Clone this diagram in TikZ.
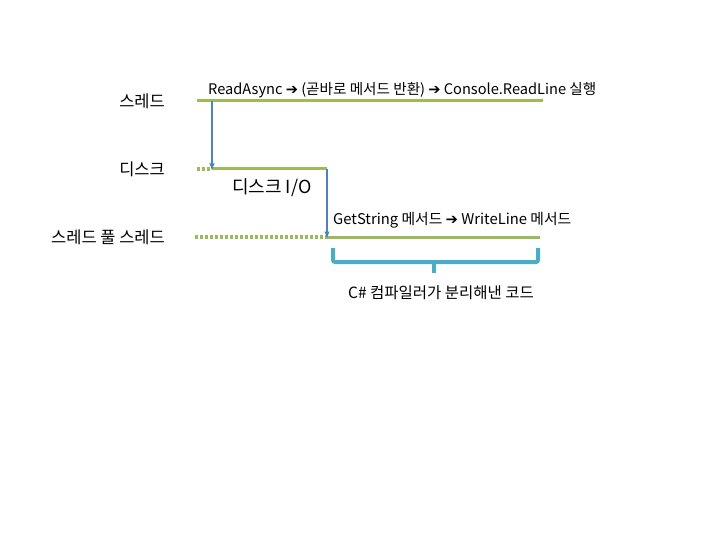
\documentclass[tikz,border=0pt]{standalone}
\usepackage{fontspec}
\setmainfont{Noto Sans CJK KR}
\newfontfamily\symfont{DejaVu Sans}
\usetikzlibrary{positioning}
\definecolor{laneGreen}{RGB}{155,187,89}
\definecolor{jumpBlue}{RGB}{79,129,189}
\definecolor{braceBlue}{RGB}{75,172,198}
\newcommand{\goarr}{{\symfont\char"2794}}

\begin{document}
\begin{tikzpicture}[x=1pt,y=-1pt,
  lane/.style={draw=laneGreen,line width=3pt},
  idle/.style={draw=laneGreen,line width=3.5pt,dash pattern=on 3pt off 2pt},
  jump/.style={draw=jumpBlue,line width=1.4pt,-latex},
  side/.style={anchor=east,inner sep=0pt,font=\fontsize{16.5}{19}\selectfont},
  note/.style={anchor=west,inner sep=0pt,font=\fontsize{14.6}{17}\selectfont}]
\useasboundingbox (0,0) rectangle (720,540);
% row names
\node at (165,101) [side] (nameT) {스레드};
\node at (165,169) [side] (nameD) {디스크};
\node at (165,237) [side] (nameP) {스레드 풀 스레드};
% lanes
\coordinate (T0) at (197,101);
\coordinate (T1) at (212,101);
\coordinate (T2) at (543,101);
\coordinate (D0) at (197,169);
\coordinate (D1) at (212,169);
\coordinate (D2) at (327,169);
\coordinate (P0) at (195,237);
\coordinate (P1) at (327,237);
\coordinate (P2) at (540,237);
\draw[lane] (T0) -- (T2);
\draw[idle] (D0) -- (D1);
\draw[lane] (D1) -- (D2);
\draw[idle] (P0) -- (P1);
\draw[lane] (P1) -- (P2);
% hand-offs
\draw[jump] (T1) -- ([yshift=-1.5pt]D1);
\draw[jump] (D2) -- ([yshift=-1.5pt]P1);
% texts
\node at (208,90) [note] (txtT) {ReadAsync \goarr\ (곧바로 메서드 반환) \goarr\ Console.ReadLine 실행};
\node at (232,188) [note,font=\fontsize{18}{21}\selectfont] (txtD) {디스크 I/O};
\node at (333,220) [note,font=\fontsize{14.8}{17}\selectfont] (txtP) {GetString 메서드 \goarr\ WriteLine 메서드};
% brace
\coordinate (B0) at (333,248);
\coordinate (B1) at (333,262);
\coordinate (Bm) at (434,262);
\coordinate (Bt) at (434,273);
\coordinate (B2) at (538,262);
\coordinate (B3) at (538,248);
\draw[braceBlue,line width=4pt,rounded corners=2pt] (B0) -- (B1) -- (B2) -- (B3);
\draw[braceBlue,line width=4pt] (Bm) -- (Bt);
\node at (441,293) [note,anchor=center,font=\fontsize{15.5}{18}\selectfont] (txtB) {C\# 컴파일러가 분리해낸 코드};
\end{tikzpicture}
\end{document}
